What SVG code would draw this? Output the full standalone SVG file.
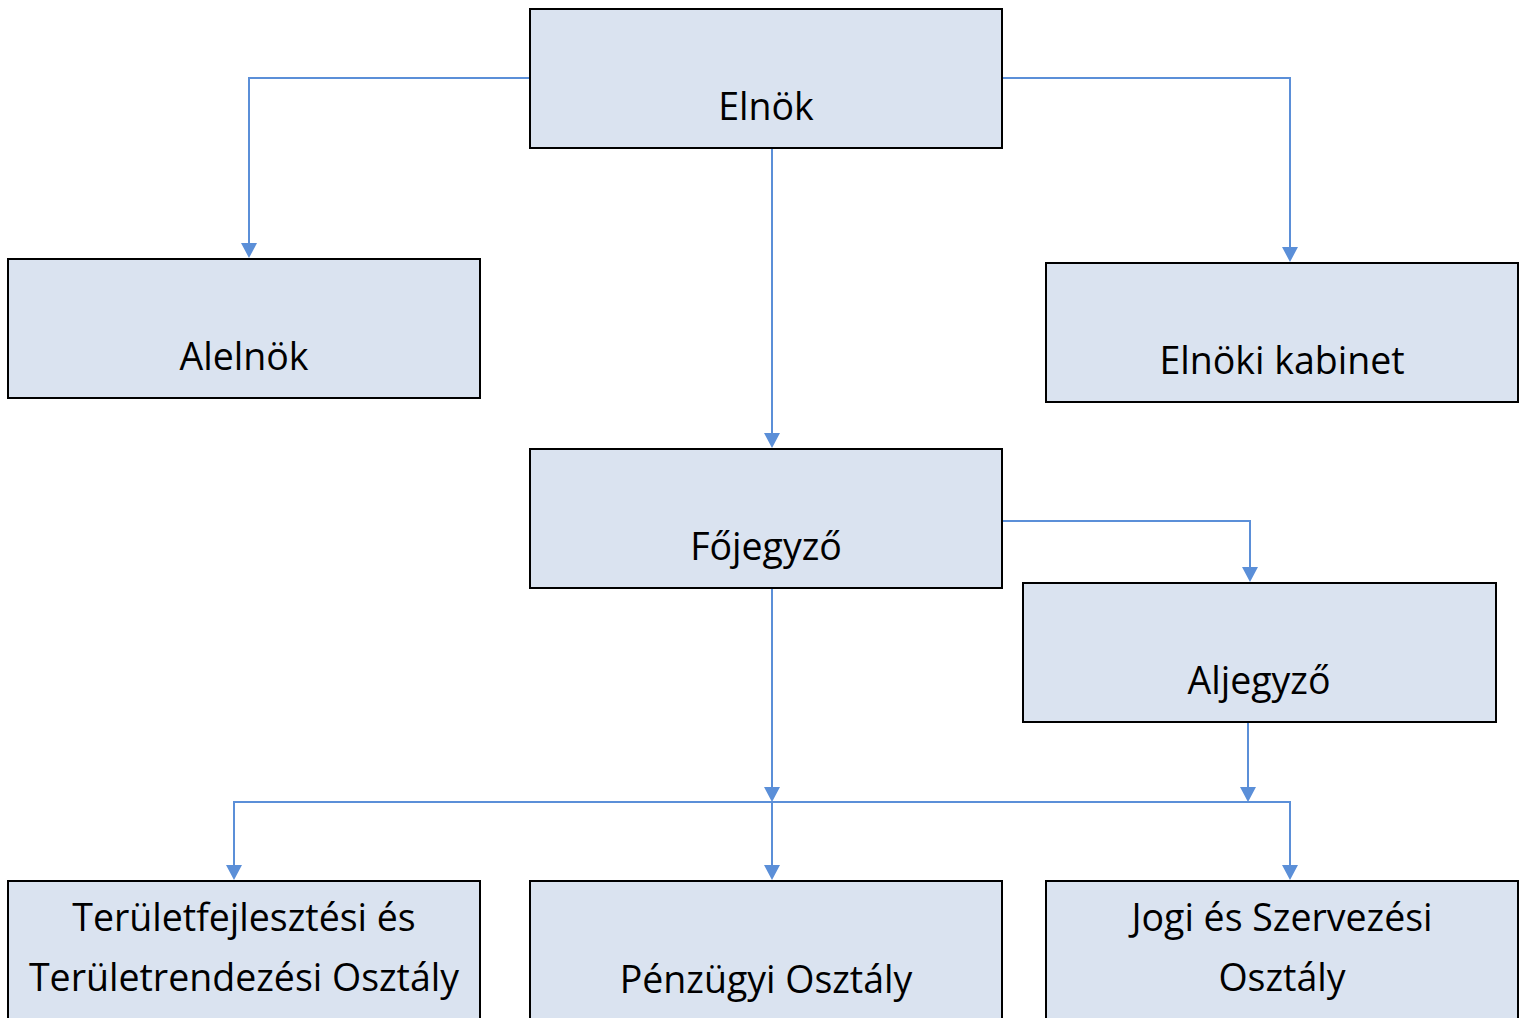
<svg xmlns="http://www.w3.org/2000/svg" width="1520" height="1018" viewBox="0 0 1520 1018">
<defs>
<style>
.box{fill:#dae3f0;stroke:#000;stroke-width:2}
.lbl{font-family:"Open Sans","Noto Sans",sans-serif;font-size:37.5px;fill:#000;text-anchor:middle}
.con{fill:none;stroke:#5b8fd8;stroke-width:2}
.ah{fill:#5b8fd8}
</style>
</defs>
<rect width="1520" height="1018" fill="#fff"/>
<g id="connectors">
<path class="con" d="M530,78 H249 V244"/>
<path class="ah" d="M241,243 H257 L249,258 Z"/>
<path class="con" d="M1002,78 H1290 V248"/>
<path class="ah" d="M1282,247 H1298 L1290,262 Z"/>
<path class="con" d="M772,148 V434"/>
<path class="ah" d="M764,433 H780 L772,448 Z"/>
<path class="con" d="M1002,521 H1250 V568"/>
<path class="ah" d="M1242,567 H1258 L1250,582 Z"/>
<path class="con" d="M772,588 V788"/>
<path class="ah" d="M764,787 H780 L772,802 Z"/>
<path class="con" d="M1248,722 V788"/>
<path class="ah" d="M1240,787 H1256 L1248,802 Z"/>
<path class="con" d="M234,866 V802 H1290 V866"/>
<path class="ah" d="M226,865 H242 L234,880 Z"/>
<path class="ah" d="M1282,865 H1298 L1290,880 Z"/>
<path class="con" d="M772,802 V866"/>
<path class="ah" d="M764,865 H780 L772,880 Z"/>
</g>
<g id="elnok"><rect class="box" x="530" y="9" width="472" height="139"/><text class="lbl" x="766" y="120">Elnök</text></g>
<g id="alelnok"><rect class="box" x="8" y="259" width="472" height="139"/><text class="lbl" x="244" y="370">Alelnök</text></g>
<g id="elnoki-kabinet"><rect class="box" x="1046" y="263" width="472" height="139"/><text class="lbl" x="1282" y="374">Elnöki kabinet</text></g>
<g id="fojegyzo"><rect class="box" x="530" y="449" width="472" height="139"/><text class="lbl" x="766" y="560">Főjegyző</text></g>
<g id="aljegyzo"><rect class="box" x="1023" y="583" width="473" height="139"/><text class="lbl" x="1259" y="694">Aljegyző</text></g>
<g id="teruletfejlesztesi"><rect class="box" x="8" y="881" width="472" height="160"/><text class="lbl" x="244" y="931">Területfejlesztési és</text><text class="lbl" x="244" y="991">Területrendezési Osztály</text></g>
<g id="penzugyi"><rect class="box" x="530" y="881" width="472" height="160"/><text class="lbl" x="766" y="993">Pénzügyi Osztály</text></g>
<g id="jogi"><rect class="box" x="1046" y="881" width="472" height="160"/><text class="lbl" x="1282" y="931">Jogi és Szervezési</text><text class="lbl" x="1282" y="991">Osztály</text></g>
</svg>
